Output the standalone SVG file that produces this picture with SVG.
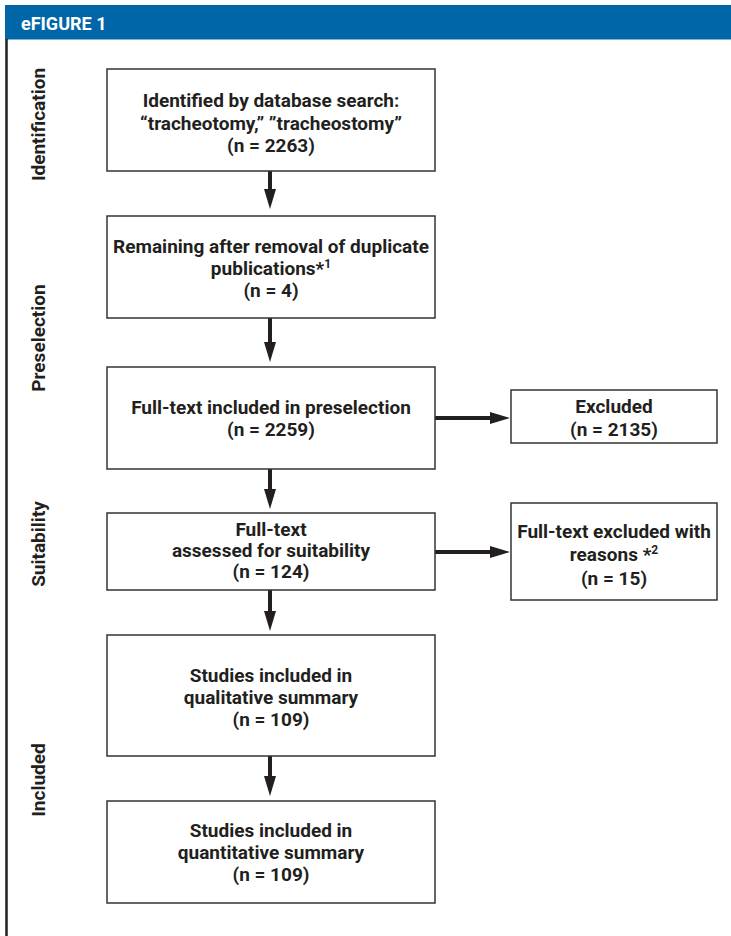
<svg xmlns="http://www.w3.org/2000/svg" width="731" height="936" viewBox="0 0 731 936">
<defs>
<style>
.box{fill:#fff;stroke:#333;stroke-width:1.5}
.t{font-family:Roboto,"Liberation Sans",sans-serif;font-weight:bold;font-size:19px;fill:#231f20;text-anchor:middle}
.lab{font-family:Roboto,"Liberation Sans",sans-serif;font-weight:bold;font-size:19px;fill:#231f20;text-anchor:middle}
.sup{font-size:12px}
.conn{stroke:#231f20;stroke-width:4;fill:none}
</style>
<marker id="ah" markerUnits="userSpaceOnUse" markerWidth="20" markerHeight="12" refX="0" refY="6" orient="auto">
<path d="M0,0 L20,6 L0,12 z" fill="#231f20"/>
</marker>
</defs>
<rect width="731" height="936" fill="#fff"/>
<g id="header">
<rect x="5" y="5" width="726" height="34.5" fill="#0066a8"/>
<text x="21" y="30" font-family="Roboto,'Liberation Sans',sans-serif" font-weight="bold" font-size="18" fill="#fff">eFIGURE 1</text>
</g>
<line x1="6.5" y1="39" x2="6.5" y2="936" stroke="#231f20" stroke-width="2.5"/>
<g id="labels">
<text class="lab" transform="translate(45,124.5) rotate(-90)">Identification</text>
<text class="lab" transform="translate(45,338) rotate(-90)">Preselection</text>
<text class="lab" transform="translate(45,544) rotate(-90)">Suitability</text>
<text class="lab" transform="translate(45,780) rotate(-90)">Included</text>
</g>
<g id="connectors">
<line class="conn" x1="270" y1="171" x2="270" y2="189" marker-end="url(#ah)"/>
<line class="conn" x1="270" y1="318" x2="270" y2="342" marker-end="url(#ah)"/>
<line class="conn" x1="270" y1="469" x2="270" y2="489" marker-end="url(#ah)"/>
<line class="conn" x1="270" y1="590" x2="270" y2="611" marker-end="url(#ah)"/>
<line class="conn" x1="270" y1="756" x2="270" y2="776" marker-end="url(#ah)"/>
<line class="conn" x1="435" y1="418" x2="490" y2="418" marker-end="url(#ah)"/>
<line class="conn" x1="435" y1="552" x2="490" y2="552" marker-end="url(#ah)"/>
</g>
<g id="n1">
<rect class="box" x="107" y="69" width="328" height="102"/>
<text class="t" x="271" y="107">Identified by database search:</text>
<text class="t" x="271" y="129.5">“tracheotomy,” ”tracheostomy”</text>
<text class="t" x="271" y="152">(n = 2263)</text>
</g>
<g id="n2">
<rect class="box" x="107" y="216" width="328" height="102"/>
<text class="t" x="271" y="253">Remaining after removal of duplicate</text>
<text class="t" x="271" y="275">publications*<tspan class="sup" dy="-7">1</tspan></text>
<text class="t" x="271" y="297">(n = 4)</text>
</g>
<g id="n3">
<rect class="box" x="107" y="367" width="328" height="102"/>
<text class="t" x="271" y="414">Full-text included in preselection</text>
<text class="t" x="271" y="436">(n = 2259)</text>
</g>
<g id="n4">
<rect class="box" x="511" y="390" width="206" height="53"/>
<text class="t" x="614" y="413">Excluded</text>
<text class="t" x="614" y="436">(n = 2135)</text>
</g>
<g id="n5">
<rect class="box" x="107" y="513" width="328" height="77"/>
<text class="t" x="271" y="536">Full-text</text>
<text class="t" x="271" y="557">assessed for suitability</text>
<text class="t" x="271" y="578">(n = 124)</text>
</g>
<g id="n6">
<rect class="box" x="511" y="503" width="206" height="97"/>
<text class="t" x="614" y="538">Full-text excluded with</text>
<text class="t" x="614" y="561">reasons *<tspan class="sup" dy="-7">2</tspan></text>
<text class="t" x="614" y="585">(n = 15)</text>
</g>
<g id="n7">
<rect class="box" x="107" y="635" width="328" height="121"/>
<text class="t" x="271" y="682">Studies included in</text>
<text class="t" x="271" y="704">qualitative summary</text>
<text class="t" x="271" y="726">(n = 109)</text>
</g>
<g id="n8">
<rect class="box" x="107" y="801" width="328" height="102"/>
<text class="t" x="271" y="837">Studies included in</text>
<text class="t" x="271" y="859">quantitative summary</text>
<text class="t" x="271" y="881">(n = 109)</text>
</g>
</svg>
